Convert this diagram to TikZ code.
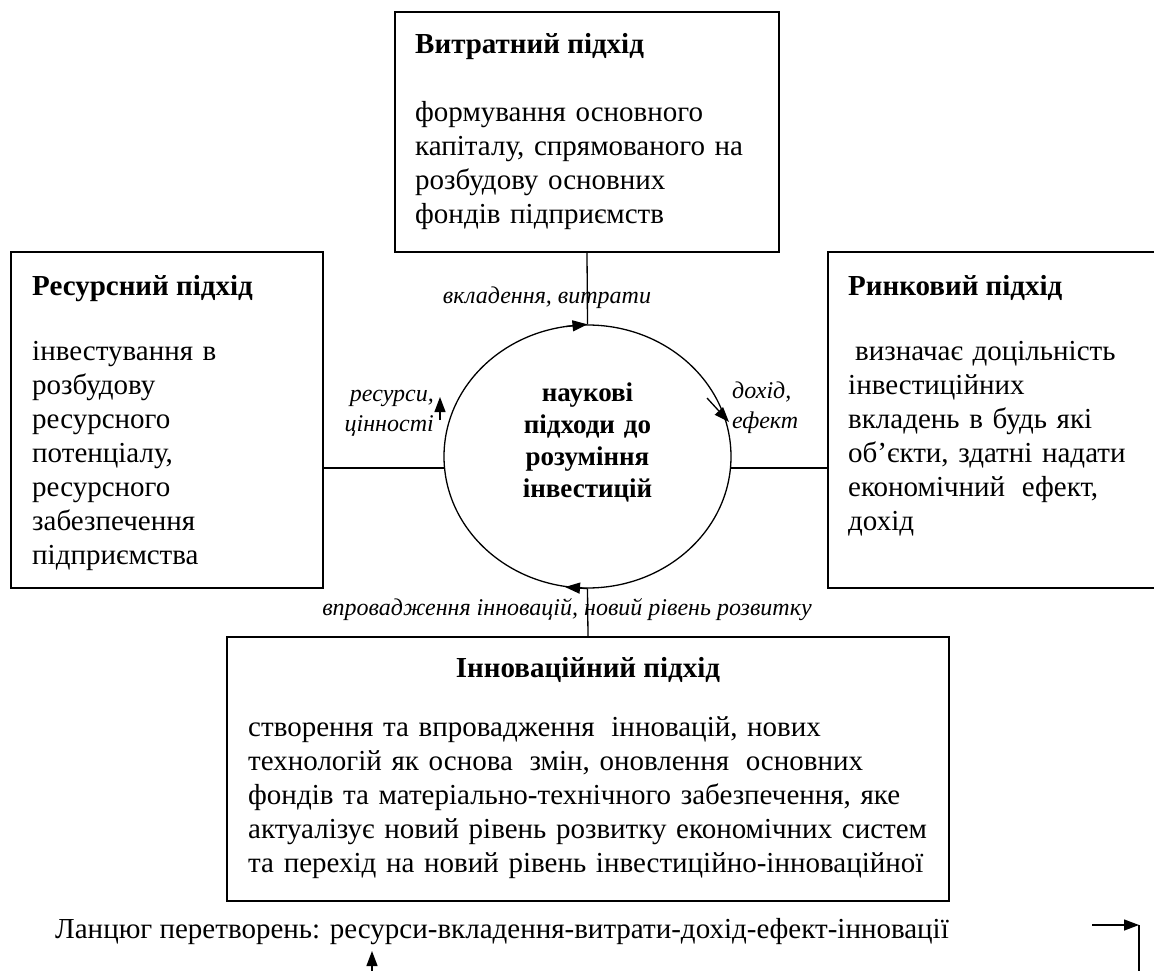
\documentclass[tikz,border=0pt]{standalone}
\usepackage{fontspec}
\setmainfont{Liberation Serif}
\usetikzlibrary{arrows.meta,shapes.geometric}
\begin{document}
\begin{tikzpicture}[x=1pt,y=-1pt,
  box/.style={draw, line width=1.3pt, rectangle, inner sep=0pt},
  ln/.style={line width=1.3pt},
  arr/.style={line width=1.3pt, -{Triangle[length=15pt,width=11pt]}},
  ttl/.style={font=\fontsize{29}{34}\selectfont\bfseries, anchor=base west, inner sep=0pt},
  body/.style={font=\fontsize{29}{34}\selectfont, anchor=base west, align=left, text width=#1, inner sep=0pt},
  body/.default=350pt,
  lab/.style={font=\fontsize{24}{30}\selectfont\itshape, inner sep=0pt}
]
\useasboundingbox (0,0) rectangle (1154,971);

% boxes
\node[box, minimum width=384pt, minimum height=240pt] (tbox) at (587,132) {};
\node[box, minimum width=312pt, minimum height=336pt] (lbox) at (167,420) {};
\node[box, minimum width=342pt, minimum height=336pt] (rbox) at (999,420) {};
\node[box, minimum width=722pt, minimum height=264pt] (bbox) at (588,769) {};

% top box text
\node[ttl] (ttitle) at (415,54) {Витратний підхід};
\node[body] (tbody) at (415,122) {формування основного\\капіталу, спрямованого на\\розбудову основних\\фондів підприємств};

% left box text
\node[ttl] (ltitle) at (32,295) {Ресурсний підхід};
\node[body=285pt] (lbody) at (32,360) {інвестування в\\розбудову\\ресурсного\\потенціалу,\\ресурсного\\забезпечення\\підприємства};

% right box text
\node[ttl] (rtitle) at (848,295) {Ринковий підхід};
\node[body=300pt] (rbody) at (848,360) {\hspace{7pt}визначає доцільність\\інвестиційних\\вкладень в будь які\\об’єкти, здатні надати\\економічний\hspace{7pt} ефект,\\дохід};

% bottom box text
\node[font=\fontsize{29}{34}\selectfont\bfseries, anchor=base, inner sep=0pt] (btitle) at (588,677) {Інноваційний підхід};
\node[body=695pt] (bbody) at (248,736) {створення та впровадження\hspace{7pt} інновацій, нових\\технологій як основа\hspace{7pt} змін, оновлення\hspace{7pt} основних\\фондів та матеріально-технічного забезпечення, яке\\актуалізує новий рівень розвитку економічних систем\\та перехід на новий рівень інвестиційно-інноваційної};

% circle
\node[draw, ellipse, line width=1.3pt, minimum width=287pt, minimum height=263pt, inner sep=0pt] (circ) at (587.5,456.5) {};
\node[font=\fontsize{27}{32}\selectfont\bfseries, align=center, text width=220pt, anchor=base, inner sep=0pt] (ctext) at (587.5,401) {наукові\\підходи до\\розуміння\\інвестицій};

% connectors
\coordinate (cl) at (444.5,468);
\coordinate (cr) at (730.5,468);
\draw[ln] (lbox.east |- cl) -- (cl);
\draw[ln] (cr) -- (rbox.west |- cr);
\draw[ln] (tbox.south) -- (circ.north);
\draw[ln] (circ.south) -- (bbox.north);

% arrows on circle
\coordinate (ta0) at (566,326.5);
\draw[arr] (ta0) -- (circ.north);
\coordinate (ra0) at (707,398);
\coordinate (ra1) at (729,422);
\draw[arr] (ra0) -- (ra1);
\coordinate (ba1) at (565,587);
\draw[arr] (circ.south) -- (ba1);
\coordinate (la0) at (440,420);
\coordinate (la1) at (440,397);
\draw[arr] (la0) -- (la1);

% labels
\node[lab, anchor=center] (lvk) at (547,298) {вкладення, витрати};
\node[lab, anchor=base east, align=right] (lres) at (434,431) {ресурси,\\цінності};
\node[lab, anchor=base west, align=left] (ldoh) at (732,428) {дохід,\\ефект};
\node[lab, anchor=center] (lvp) at (567,610) {впровадження інновацій, новий рівень розвитку};

% chain text
\node[font=\fontsize{29}{34}\selectfont, anchor=base west, inner sep=0pt] (chain) at (55,938) {Ланцюг перетворень: ресурси-вкладення-витрати-дохід-ефект-інновації};

% stray arrows
\coordinate (u0) at (372,975);
\coordinate (u1) at (372,951);
\draw[arr] (u0) -- (u1);
\coordinate (r0) at (1092,925);
\coordinate (r1) at (1139,925);
\coordinate (r2) at (1139,975);
\draw[arr] (r0) -- (r1);
\draw[ln] (r1) -- (r2);
\end{tikzpicture}
\end{document}
